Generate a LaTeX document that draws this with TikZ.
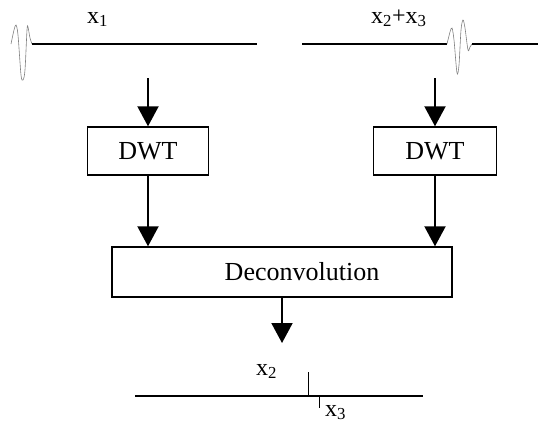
\documentclass[tikz,border=0pt]{standalone}
\usepackage{fontspec}
\setmainfont{Liberation Serif}
\usetikzlibrary{arrows.meta}

\begin{document}
\begin{tikzpicture}[x=1pt,y=-1pt,
						block/.style={draw,line width=1.4pt,inner sep=0pt,
						font=\fontsize{26}{30}\selectfont},
						flow/.style={line width=2pt,
						-{Triangle[width=21pt,length=20pt]}},
						trace/.style={line width=1.3pt},
						wave/.style={gray,line width=0.6pt},
						sig/.style={inner sep=0pt,anchor=base west,
						font=\fontsize{24}{28}\selectfont}]

		\useasboundingbox (0,0) rectangle (549,426);

		\node [sig] (s1)  at (87,23)   {x\textsubscript{1}};
		\node [sig] (s23) at (371,23)  {x\textsubscript{2}+x\textsubscript{3}};
		\node [block,minimum width=121pt,minimum height=48pt] (dwtL) at (148,151) {DWT};
		\node [block,minimum width=123pt,minimum height=48pt] (dwtR) at (435,151) {DWT};
		\node [block,minimum width=340pt,minimum height=50pt] (dec) at (282,272)
			{\hspace*{40pt}Deconvolution};
		\node [sig] (s2)  at (256,375) {x\textsubscript{2}};
		\node [sig] (s3)  at (325,416) {x\textsubscript{3}};

		\coordinate (inL) at (148,78);
		\coordinate (inR) at (435,78);
		\coordinate (out) at (282,343);

		\draw[flow] (inL) -- (dwtL);
		\draw[flow] (inR) -- (dwtR);
		\draw[flow] (dwtL.south) -- (dwtL.south |- dec.north);
		\draw[flow] (dwtR.south) -- (dwtR.south |- dec.north);
		\draw[flow] (dec.south) -- (out);

		\draw[wave] plot[smooth] coordinates {(11,44) (14,30) (16,25) (18,35)
			(21,75) (23,80) (25,70) (27,30) (28,27) (30,38) (32,44)};
		\draw[trace] (32,44) -- (257,44);

		\draw[trace] (302,44) -- (447,44);
		\draw[wave] plot[smooth] coordinates {(447,44) (450,32) (452,28) (454,40)
			(457,73) (459,65) (461,30) (463,20) (465,28) (468,50) (470,47) (472,44)};
		\draw[trace] (472,44) -- (538,44);

		\draw[line width=2pt] (135,396) -- (423,396);
		\draw[line width=0.8pt] (308,396) -- ++(0,-24);
		\draw[line width=0.8pt] (319,396) -- ++(0,12);

	\end{tikzpicture}
\end{document}
